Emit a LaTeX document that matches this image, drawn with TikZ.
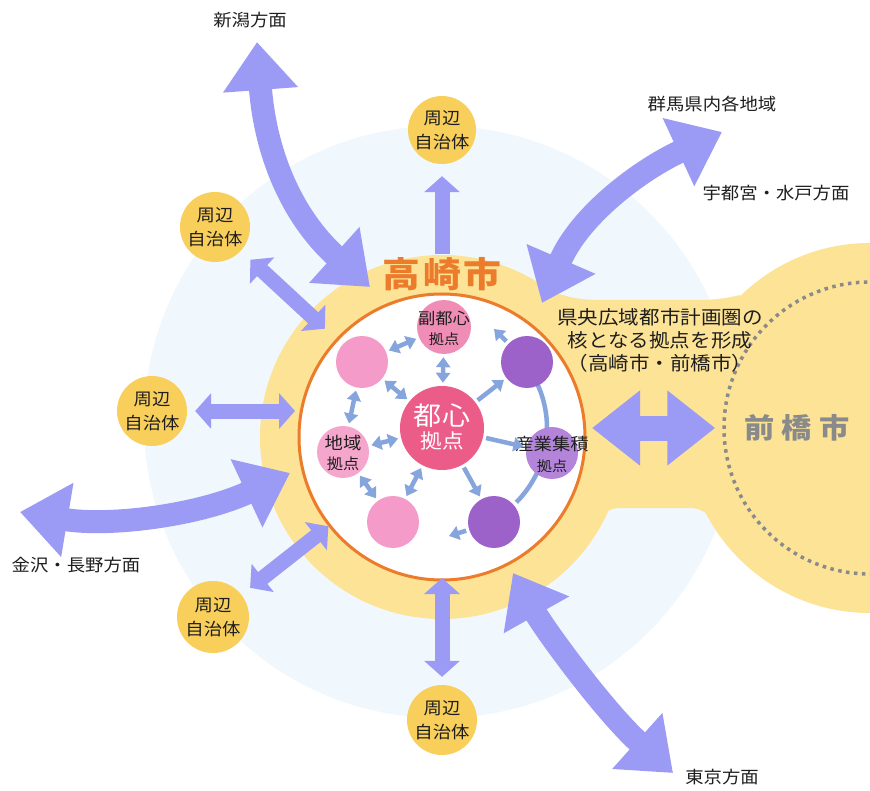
\documentclass[tikz,border=0pt]{standalone}
\usepackage{fontspec}
\newfontfamily\jp[FakeStretch=1.08]{Noto Sans CJK JP}
\usetikzlibrary{arrows.meta}
\definecolor{lblue}{HTML}{F0F7FD}
\definecolor{ringc}{HTML}{FDE396}
\definecolor{gold}{HTML}{F9CF5B}
\definecolor{bigarr}{HTML}{9B9BF6}
\definecolor{orng}{HTML}{EC7B2C}
\definecolor{inarr}{HTML}{86A5DD}
\definecolor{toshinc}{HTML}{EC5C88}
\definecolor{pinkA}{HTML}{F59BC9}
\definecolor{pinkB}{HTML}{F08DB7}
\definecolor{pinkC}{HTML}{F4A6CC}
\definecolor{purp}{HTML}{9C62C9}
\definecolor{purpL}{HTML}{B384D9}
\definecolor{txt}{HTML}{1E1E1E}
\definecolor{grayt}{HTML}{8A8A8A}
\tikzset{
  goldc/.style={circle, fill=gold, minimum size=70pt, inner sep=0pt, align=center, text=txt, font=\jp\fontsize{17}{24}\selectfont},
  spot/.style={circle, minimum size=52pt, inner sep=0pt},
  lbl/.style={text=txt, font=\jp\fontsize{17}{22}\selectfont, inner sep=0pt},
  bigD/.style={draw=bigarr, line width=23pt, {Triangle[width=72pt,length=48pt]}-{Triangle[width=72pt,length=48pt]}},
  smD/.style={draw=bigarr, line width=15pt, {Triangle[width=35pt,length=16pt]}-{Triangle[width=35pt,length=16pt]}},
  smS/.style={draw=bigarr, line width=15pt, -{Triangle[width=35pt,length=16pt]}},
  inD/.style={draw=inarr, line width=4.5pt, shorten <=3pt, shorten >=3pt, {Triangle[width=14pt,length=10pt]}-{Triangle[width=14pt,length=10pt]}},
  inS/.style={draw=inarr, line width=4.5pt, shorten <=3pt, shorten >=3pt, -{Triangle[width=14pt,length=10pt]}},
  inL/.style={draw=inarr, line width=4.5pt},
}
\begin{document}
\begin{tikzpicture}[x=1pt,y=-1pt]
\useasboundingbox (0,0) rectangle (870,791);
\clip (0,0) rectangle (870,791);
\fill[white] (0,0) rectangle (870,791);
% background zones
\fill[lblue] (440,422) circle[radius=296];
\fill[ringc] (442,437) circle[radius=182];
\fill[ringc] (870,428) circle[radius=185];
\fill[ringc] (546,289) .. controls (572,300) and (588,300) .. (605,300) -- (700,300)
  .. controls (715,300) and (728,298) .. (740,295) -- (800,428) -- (727,545)
  .. controls (717,522) and (707,508) .. (690,508) -- (620,508)
  .. controls (602,508) and (592,525) .. (585,550) -- (442,437) -- cycle;
% city circles
\node[circle, draw=orng, line width=3pt, fill=white, minimum size=286pt, inner sep=0pt] (city) at (442,437) {};
\node[circle, draw=grayt, line width=3.5pt, dash pattern=on 3.5pt off 4.5pt, minimum size=292pt, inner sep=0pt] (maebashi) at (870,428) {};
\node[text=grayt, font=\jp\bfseries\fontsize{28}{30}\selectfont] (mlabel) at (797,428) {前\hspace{7pt}橋\hspace{7pt}市};
\node[text=orng, font=\jp\bfseries\fontsize{35}{38}\selectfont] (tlabel) at (442,274) {高\hspace{3pt}崎\hspace{3pt}市};
\node[lbl, font=\jp\fontsize{19}{23}\selectfont, align=center] (kenou) at (660,340) {県央広域都市計画圏の\\核となる拠点を形成\\（高崎市・前橋市）};
% inner arc behind purple nodes
\draw[inL] (537.2,383.6) .. controls (546.3,403.2) and (549.1,425.0) .. (545.4,446.2)
  .. controls (541.7,467.5) and (531.5,487.0) .. (516.3,502.3);
% inner nodes
\node[spot, fill=toshinc, minimum size=84pt] (toshin) at (442,428) {};
\node[spot, fill=pinkB, minimum size=54pt] (fuku) at (444,327) {};
\node[spot, fill=pinkA] (ul) at (362,362) {};
\node[spot, fill=pinkC] (chiiki) at (343,452) {};
\node[spot, fill=pinkA] (ll) at (393,522) {};
\node[spot, fill=purp] (ur) at (527,362) {};
\node[spot, fill=purpL] (sangyo) at (552,453) {};
\node[spot, fill=purp] (lr) at (494,522) {};
\coordinate (urtip) at (494,329);
\coordinate (lrtip) at (449,536);
% inner texts
\node[text=white, font=\jp\fontsize{26}{28}\selectfont, inner sep=0pt] (toshinA) at (442,416) {都心};
\node[text=white, font=\jp\fontsize{20}{22}\selectfont, inner sep=0pt] (toshinB) at (442,441) {拠点};
\node[lbl, font=\jp\fontsize{16}{18}\selectfont] (fukuA) at (444,318) {副都心};
\node[lbl, font=\jp\fontsize{14}{16}\selectfont] (fukuB) at (444,339) {拠点};
\node[lbl, font=\jp\fontsize{17}{19}\selectfont] (chiikiA) at (343,443) {地域};
\node[lbl, font=\jp\fontsize{15}{17}\selectfont] (chiikiB) at (343,464) {拠点};
\node[lbl, font=\jp\fontsize{17}{19}\selectfont] (sangyoA) at (552,444) {産業集積};
\node[lbl, font=\jp\fontsize{14}{16}\selectfont] (sangyoB) at (552,466) {拠点};
% inner arrows
\draw[inD] (fuku) -- (toshin);
\draw[inD] (ul) -- (fuku);
\draw[inD] (ul) -- (toshin);
\draw[inD] (ul) -- (chiiki);
\draw[inD] (chiiki) -- (toshin);
\draw[inD] (chiiki) -- (ll);
\draw[inD] (ll) -- (toshin);
\draw[inS] (toshin) -- (ur);
\draw[inS] (toshin) -- (sangyo);
\draw[inS] (toshin) -- (lr);
\draw[inS, shorten >=0pt] (ur) -- (urtip);
\draw[inS, shorten >=0pt] (lr) -- (lrtip);
% surrounding municipalities
\node[goldc, minimum size=68pt] (sh1) at (442,130) {周辺\\自治体};
\node[goldc] (sh2) at (215,227) {周辺\\自治体};
\node[goldc] (sh3) at (152,411) {周辺\\自治体};
\node[goldc, minimum size=72pt] (sh4) at (213,617) {周辺\\自治体};
\node[goldc] (sh5) at (442,720) {周辺\\自治体};
\draw[smS, shorten <=38pt, shorten >=12pt] (city) -- (sh1);
\draw[smD, shorten <=15pt, shorten >=13pt] (city) -- (sh2);
\draw[smD, shorten <=8pt, shorten >=2.5pt] (sh3) -- (sh3 -| city.west);
\draw[smD, shorten <=0pt, shorten >=11pt] (city) -- (sh4);
\draw[smD, shorten <=-3.5pt, shorten >=8pt] (city) -- (sh5);
% Maebashi link
\draw[bigD, line width=25pt, shorten <=5.5pt, shorten >=7pt] (maebashi -| city.east) -- (maebashi);
% far directions
\coordinate (nigA) at (257,42);
\coordinate (nigB) at (370,287);
\draw[bigD] (nigA) .. controls (265,150) and (290,215) .. (nigB);
\coordinate (gunA) at (542,303);
\coordinate (gunB) at (722,132);
\draw[bigD] (gunA) .. controls (580,215) and (640,170) .. (gunB);
\coordinate (kanA) at (20,512);
\coordinate (kanB) at (290,473);
\draw[bigD] (kanA) .. controls (110,527) and (200,515) .. (kanB);
\coordinate (tokA) at (513,573);
\coordinate (tokB) at (673,773);
\draw[bigD] (tokA) .. controls (545,630) and (605,712) .. (tokB);
% direction labels
\node[lbl] (lnig) at (250,20) {新潟方面};
\node[lbl] (lgun) at (712,104) {群馬県内各地域};
\node[lbl] (luts) at (776,193) {宇都宮・水戸方面};
\node[lbl] (lkan) at (76,565) {金沢・長野方面};
\node[lbl] (ltok) at (722,777) {東京方面};
\end{tikzpicture}
\end{document}
